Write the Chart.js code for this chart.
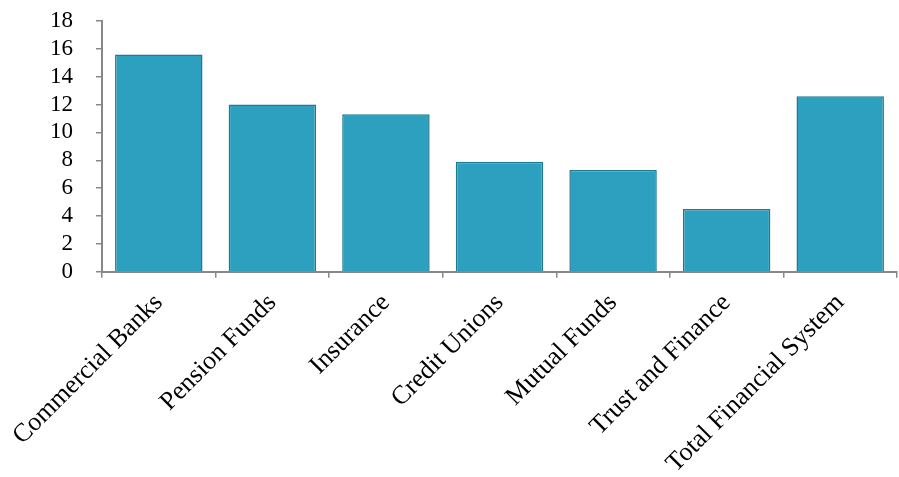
<!DOCTYPE html>
<html>
<head>
<meta charset="utf-8">
<script src="https://cdn.jsdelivr.net/npm/chart.js@4/dist/chart.umd.min.js"></script>
<style>
  html, body { margin: 0; padding: 0; background: #fff; }
  #box { width: 899px; height: 477px; }
</style>
</head>
<body>
<div id="box"><canvas id="grafico"></canvas></div>
<script>
var categorias = ["Commercial Banks", "Pension Funds", "Insurance", "Credit Unions",
                  "Mutual Funds", "Trust and Finance", "Total Financial System"];
var valores = [15.6, 12.0, 11.3, 7.9, 7.3, 4.5, 12.6];
var ticksY = [0, 2, 4, 6, 8, 10, 12, 14, 16, 18];

var familia = "'Liberation Serif', 'Times New Roman', serif";

var ctx = document.getElementById('grafico').getContext('2d');
var grafico = new Chart(ctx, {
    type: 'bar',
    data: {
        labels: categorias,
        datasets: [{
            data: valores,
            backgroundColor: "#2ca0be",
            borderColor: "#1f7a8f",
            borderWidth: 1.5,
            barPercentage: 0.77,
            categoryPercentage: 1.0
        }]
    },
    options: {
        responsive: true,
        maintainAspectRatio: false,
        animation: false,
        layout: { padding: { top: 21, right: 2, left: 27, bottom: -12 } },
        plugins: {
            legend: { display: false },
            tooltip: { enabled: false }
        },
        scales: {
            x: {
                grid: { drawOnChartArea: false, drawTicks: true, tickLength: 6, color: '#888', lineWidth: 1.5 },
                border: { color: '#888', width: 2 },
                ticks: {
                    color: '#000',
                    font: { family: familia, size: 26 },
                    minRotation: 45,
                    maxRotation: 45,
                    padding: 10,
                    autoSkip: false
                }
            },
            y: {
                min: 0,
                max: 18,
                afterBuildTicks: function(eixo) {
                    eixo.ticks = ticksY.map(function(v) { return { value: v }; });
                },
                // o padding dos rótulos não deve empurrar a área do gráfico para baixo
                afterFit: function(eixo) {
                    eixo.paddingTop = 0;
                },
                grid: { drawOnChartArea: false, drawTicks: true, tickLength: 6, color: '#888', lineWidth: 1.5 },
                border: { color: '#888', width: 2 },
                ticks: {
                    color: '#000',
                    font: { family: familia, size: 23 },
                    padding: 23,
                    autoSkip: false
                }
            }
        }
    }
});
</script>
</body>
</html>
